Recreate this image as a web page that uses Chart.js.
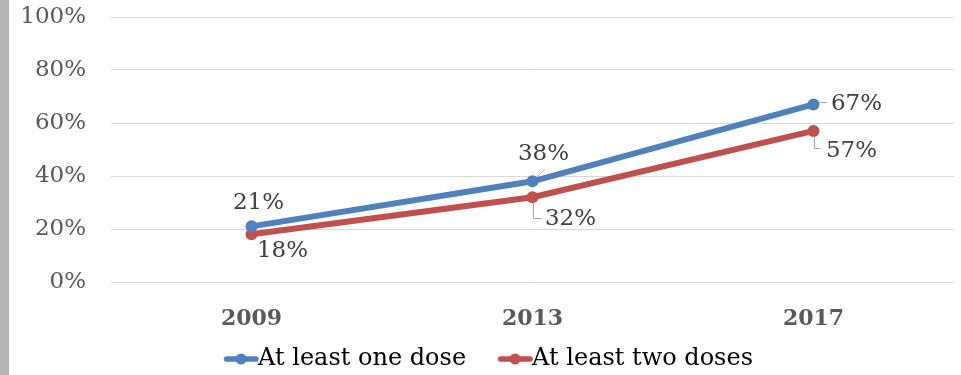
<!DOCTYPE html>
<html>
<head>
<meta charset="utf-8">
<script src="https://cdn.jsdelivr.net/npm/chart.js@4/dist/chart.umd.min.js"></script>
<style>
  html, body { margin: 0; padding: 0; background: #fff; }
  #wrap { position: relative; width: 961px; height: 375px; }
  #bar { position: absolute; left: 0; top: 0; width: 9px; height: 375px; background: #b3b3b3; }
  canvas { position: absolute; left: 0; top: 0; }
</style>
</head>
<body>
<div id="wrap">
  <canvas id="c" width="961" height="375"></canvas>
  <div id="bar"></div>
</div>
<script>
// Survey years and coverage shares (%)
const years = ['2009', '2013', '2017'];
const oneDose = [21, 38, 67];
const twoDoses = [18, 32, 57];
const seriesNames = ['At least one dose', 'At least two doses'];

const FONT = "'DejaVu Serif', serif";
const BLUE = '#4F81BD';
const RED = '#C0504D';

// Legend symbol: a short thick line with a dot in the middle.
// The image is centred on the (wide) legend box, so the symbol sits in its right part,
// right next to the label text.
function legendSymbol(color) {
  const cv = document.createElement('canvas');
  cv.width = 68; cv.height = 14;
  const g = cv.getContext('2d');
  g.strokeStyle = color; g.lineWidth = 5.5; g.lineCap = 'round';
  g.beginPath(); g.moveTo(35.5, 7); g.lineTo(65, 7); g.stroke();
  g.fillStyle = color;
  g.beginPath(); g.arc(50, 7, 5.5, 0, Math.PI * 2); g.fill();
  return cv;
}

// Value labels with small leader lines
const valueLabels = {
  id: 'valueLabels',
  afterDatasetsDraw(chart, args, opts) {
    const ctx = chart.ctx;
    ctx.save();
    ctx.font = opts.size + 'px ' + FONT;
    ctx.fillStyle = opts.color;
    ctx.textAlign = 'center';
    ctx.textBaseline = 'middle';
    chart.data.datasets.forEach((ds, di) => {
      const meta = chart.getDatasetMeta(di);
      meta.data.forEach((pt, i) => {
        const place = opts.places[di][i];
        const x = pt.x, y = pt.y;
        if (place.leader) {
          ctx.strokeStyle = opts.leaderColor;
          ctx.lineWidth = 1;
          ctx.beginPath();
          place.leader.forEach((p, k) => {
            const px = Math.round(x + p[0]) + 0.5, py = Math.round(y + p[1]) + 0.5;
            if (k === 0) ctx.moveTo(px, py); else ctx.lineTo(px, py);
          });
          ctx.stroke();
        }
        ctx.fillText(ds.data[i] + '%', x + place.dx, y + place.dy);
      });
    });
    ctx.restore();
  }
};

new Chart(document.getElementById('c'), {
  type: 'line',
  data: {
    labels: years,
    datasets: [
      { label: seriesNames[0], data: oneDose, borderColor: BLUE, backgroundColor: BLUE,
        borderWidth: 6, pointRadius: 6, pointBackgroundColor: BLUE, pointBorderWidth: 0, tension: 0 },
      { label: seriesNames[1], data: twoDoses, borderColor: RED, backgroundColor: RED,
        borderWidth: 6, pointRadius: 6, pointBackgroundColor: RED, pointBorderWidth: 0, tension: 0 }
    ]
  },
  options: {
    responsive: false,
    animation: false,
    devicePixelRatio: 1,
    layout: { padding: { top: 17, right: 7, bottom: -6, left: 3 } },
    scales: {
      y: {
        min: 0, max: 100,
        ticks: { stepSize: 20, callback: v => v + '%', color: '#595959',
                 font: { family: FONT, size: 23 }, padding: 25 },
        grid: { color: '#d9d9d9', drawTicks: false, lineWidth: 1 },
        border: { display: false },
        afterFit(s) { s.width = 108; s.paddingTop = 0; s.paddingBottom = 0; }
      },
      x: {
        offset: true,
        grid: { display: false, drawTicks: false },
        border: { display: false },
        ticks: { color: '#595959', font: { family: FONT, size: 22, weight: 'bold' }, padding: 24 },
        afterFit(s) { s.height = 53; }
      }
    },
    plugins: {
      tooltip: { enabled: false },
      legend: {
        position: 'bottom',
        labels: {
          color: '#404040',
          font: { family: FONT, size: 24 },
          usePointStyle: true,
          pointStyleWidth: 42,
          padding: 12,
          generateLabels(chart) {
            return chart.data.datasets.map((ds, i) => ({
              text: ds.label,
              fillStyle: ds.borderColor,
              strokeStyle: ds.borderColor,
              lineWidth: 0,
              pointStyle: legendSymbol(ds.borderColor),
              datasetIndex: i,
              hidden: false
            }));
          }
        }
      },
      valueLabels: {
        size: 23,
        color: '#404040',
        leaderColor: '#a6a6a6',
        places: [
          [ { dx: 7, dy: -23 },
            { dx: 11, dy: -27, leader: [[4, -5], [11, -12]] },
            { dx: 43, dy: 0, leader: [[5, -2], [12, -2]] } ],
          [ { dx: 31, dy: 17 },
            { dx: 38, dy: 22, leader: [[0, 4], [0, 21], [8, 21]] },
            { dx: 38, dy: 20, leader: [[0, 5], [0, 17], [6, 17]] } ]
        ]
      }
    }
  },
  plugins: [valueLabels]
});
</script>
</body>
</html>
